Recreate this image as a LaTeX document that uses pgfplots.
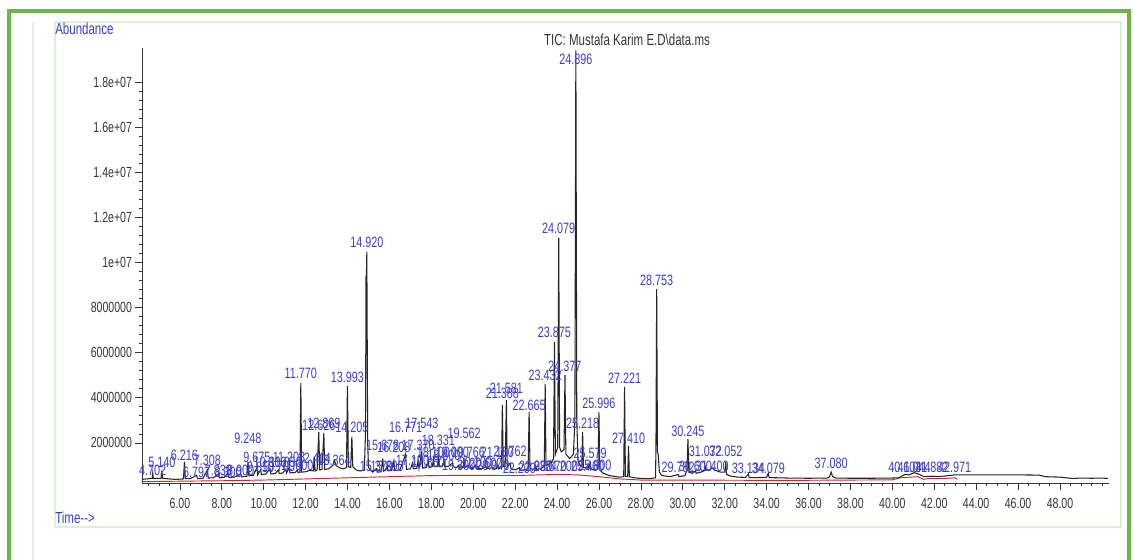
\documentclass[border=0pt]{standalone}
\usepackage{fontspec}
\setmainfont{Liberation Sans}[FakeStretch=0.72]
\usepackage{pgfplots}
\usepackage{pgfplotstable}
\pgfplotsset{compat=1.18}
\definecolor{lblue}{RGB}{62,62,205}
\definecolor{gframe}{RGB}{112,180,72}
\definecolor{lframe}{RGB}{220,242,212}
\definecolor{tcol}{RGB}{55,55,55}
\definecolor{rline}{RGB}{205,40,40}

\pgfplotstableread{
x y
4.19 380000
4.40 400000
4.60 420000
4.68 430000
4.702 650000
4.73 430000
4.90 420000
5.10 430000
5.14 700000
5.18 430000
5.50 400000
5.80 380000
6.17 400000
6.216 1150000
6.26 420000
6.50 410000
6.797 560000
6.85 410000
7.10 430000
7.308 800000
7.35 440000
7.60 450000
7.839 620000
7.88 450000
8.10 470000
8.30 650000
8.34 470000
8.60 480000
8.90 620000
8.94 490000
9.20 520000
9.248 1150000
9.29 540000
9.50 560000
9.675 900000
9.71 580000
9.85 800000
9.89 590000
10.10 620000
10.30 850000
10.34 620000
10.55 640000
10.70 800000
10.74 640000
10.90 660000
11.05 820000
11.09 660000
11.208 900000
11.25 670000
11.50 680000
11.60 800000
11.64 680000
11.73 700000
11.770 4660000
11.81 700000
12.00 720000
12.20 780000
12.37 760000
12.414 1400000
12.45 750000
12.55 800000
12.626 2480000
12.67 800000
12.78 820000
12.869 2440000
12.91 820000
13.10 850000
13.30 1000000
13.364 1240000
13.45 1000000
13.60 900000
13.80 850000
13.95 900000
13.993 4520000
14.04 950000
14.15 900000
14.205 2260000
14.25 950000
14.40 800000
14.60 750000
14.80 800000
14.86 2500000
14.88 9360000
14.90 9400000
14.920 10470000
14.96 2000000
15.00 900000
15.20 700000
15.379 850000
15.42 700000
15.60 720000
15.678 1300000
15.72 750000
15.80 780000
15.890 1000000
15.93 760000
16.10 780000
16.208 1200000
16.25 780000
16.50 800000
16.771 1500000
16.81 820000
17.00 850000
17.10 1100000
17.14 850000
17.30 870000
17.37 1200000
17.41 870000
17.543 1600000
17.58 880000
17.75 900000
17.85 1200000
17.89 900000
18.05 950000
18.10 1300000
18.14 950000
18.30 950000
18.331 1400000
18.37 950000
18.50 950000
18.60 1200000
18.64 950000
18.80 950000
19.00 1100000
19.04 950000
19.20 900000
19.30 1000000
19.34 880000
19.52 900000
19.562 1250000
19.60 900000
19.766 1000000
19.80 880000
20.00 870000
20.10 1000000
20.14 860000
20.40 850000
20.60 950000
20.64 850000
20.90 900000
20.94 840000
21.10 850000
21.15 1000000
21.19 850000
21.35 900000
21.388 3680000
21.43 950000
21.52 950000
21.581 3900000
21.62 950000
21.762 1100000
21.80 850000
22.00 800000
22.20 900000
22.24 780000
22.45 800000
22.62 850000
22.665 3370000
22.71 850000
22.90 830000
22.98 1000000
23.02 830000
23.20 850000
23.30 900000
23.39 950000
23.432 4610000
23.47 1000000
23.60 1050000
23.67 1200000
23.72 1100000
23.83 1300000
23.875 6470000
23.92 1500000
24.03 1800000
24.079 11090000
24.12 1800000
24.20 1600000
24.33 1700000
24.377 5000000
24.42 1500000
24.60 1300000
24.78 1500000
24.85 3000000
24.896 19400000
24.94 3000000
25.00 1200000
25.10 1000000
25.18 950000
25.218 2480000
25.26 900000
25.40 900000
25.46 1000000
25.50 850000
25.579 1100000
25.62 820000
25.80 800000
25.95 850000
25.996 3370000
26.04 800000
26.20 650000
26.50 550000
26.80 500000
27.00 480000
27.18 500000
27.221 4480000
27.26 520000
27.37 500000
27.410 1860000
27.45 500000
27.70 450000
28.00 420000
28.40 410000
28.70 450000
28.72 2000000
28.753 8820000
28.79 1600000
28.83 1460000
28.88 700000
29.00 550000
29.40 500000
29.782 600000
29.82 500000
30.10 550000
30.20 800000
30.245 2170000
30.29 700000
30.45 650000
30.60 750000
30.64 650000
30.85 700000
31.00 750000
31.072 930000
31.11 800000
31.30 800000
31.40 900000
31.50 800000
31.80 700000
32.00 700000
32.052 1150000
32.09 600000
32.30 520000
32.60 480000
33.00 470000
33.134 620000
33.17 460000
33.50 460000
34.00 470000
34.079 650000
34.12 460000
35.00 440000
36.00 430000
36.90 440000
37.00 500000
37.080 700000
37.15 500000
37.30 440000
38.00 430000
39.00 430000
40.00 440000
40.30 450000
40.603 600000
40.80 580000
41.044 680000
41.30 600000
41.50 500000
41.882 520000
42.20 500000
42.50 530000
42.971 580000
43.20 580000
44.00 580000
45.00 580000
46.00 580000
47.00 570000
47.30 500000
48.00 480000
48.60 420000
49.00 440000
49.50 430000
50.00 440000
50.30 420000
}\tic

\pgfplotstableread{
x y
4.19 280000
6.00 300000
8.00 320000
10.00 350000
12.00 400000
14.00 450000
16.00 500000
18.00 550000
20.00 560000
22.00 550000
24.00 600000
25.00 580000
26.00 500000
27.00 400000
28.00 350000
30.00 350000
33.00 340000
36.00 340000
40.00 360000
40.40 450000
41.20 500000
41.50 380000
41.70 420000
42.50 420000
43.00 450000
43.10 380000
}\base

\pgfplotstableread{
x y lab
4.702 798000 4.702
5.140 1153000 5.140
6.216 1463000 6.216
6.797 710000 6.797
7.308 1242000 7.308
7.839 798000 7.839
8.300 710000 8.300
8.900 798000 8.900
9.248 2217000 9.248
9.675 1375000 9.675
9.850 931000 9.850
10.300 1153000 10.300
10.700 976000 10.700
11.050 1153000 11.050
11.208 1375000 11.208
11.600 1020000 11.600
11.770 5100000 11.770
12.414 1330000 12.414
12.626 2794000 12.626
12.869 2882000 12.869
13.364 1242000 13.364
13.993 4922000 13.993
14.205 2705000 14.205
14.920 10910000 14.920
15.379 976000 15.379
15.678 1907000 15.678
15.890 976000 15.890
16.208 1818000 16.208
16.771 2705000 16.771
17.100 1242000 17.100
17.370 1907000 17.370
17.543 2882000 17.543
17.850 1153000 17.850
18.100 1596000 18.100
18.331 2129000 18.331
18.600 1463000 18.600
19.000 1596000 19.000
19.300 1020000 19.300
19.562 2439000 19.562
19.766 1596000 19.766
20.100 1153000 20.100
20.600 1109000 20.600
20.940 1020000 20.940
21.150 1596000 21.150
21.388 4213000 21.388
21.581 4435000 21.581
21.762 1641000 21.762
22.200 887000 22.200
22.665 3681000 22.665
22.980 976000 22.980
23.432 5011000 23.432
23.670 976000 23.670
23.875 6918000 23.875
24.079 11530000 24.079
24.200 976000 24.200
24.377 5410000 24.377
24.896 19020000 24.896
25.218 2882000 25.218
25.460 976000 25.460
25.579 1552000 25.579
25.800 1020000 25.800
25.996 3769000 25.996
27.221 4878000 27.221
27.410 2217000 27.410
28.753 9224000 28.753
29.782 931000 29.782
30.245 2528000 30.245
30.600 976000 30.600
31.072 1641000 31.072
31.400 976000 31.400
32.052 1641000 32.052
33.134 887000 33.134
34.079 887000 34.079
37.080 1109000 37.080
40.603 931000 40.603
41.044 931000 41.044
41.882 931000 41.882
42.971 931000 42.971
}\labs

\begin{document}
\begin{tikzpicture}
\begin{scope}[x=0.75pt,y=0.75pt]
\path[use as bounding box] (0,0) rectangle (1133,560);
\fill[white] (0,0) rectangle (1133,560);
\draw[black!8, line width=2.2pt] (33,0) -- (33,538);
\draw[lframe, line width=1.2pt] (55,33) rectangle (1121,538);
\draw[gframe, line width=2.6pt] (9,0) -- (9,549) -- (1129,549) -- (1129,0);
\node[text=tcol, font=\fontsize{12}{14}\selectfont] at (627,520) {TIC: Mustafa Karim E.D\textbackslash data.ms};
\node[text=lblue, font=\fontsize{12}{14}\selectfont, anchor=west, inner sep=0pt] at (55,531) {Abundance};
\node[text=lblue, font=\fontsize{12}{14}\selectfont, anchor=west, inner sep=0pt] at (55,42) {Time-{}->};
\end{scope}
\begin{axis}[
  at={(106.5pt,57.75pt)}, anchor=south west, scale only axis,
  width=725.25pt, height=326.25pt,
  xmin=4.19, xmax=50.34, ymin=220000, ymax=19510000,
  axis lines=left, axis line style={-, tcol, line width=0.6pt},
  clip=false,
  tick align=outside,
  major tick length=5pt, minor tick length=2.5pt,
  tick style={tcol, line width=0.5pt},
  xtick={6,8,...,48},
  minor xtick={4.5,5,...,50},
  ytick={2000000,4000000,6000000,8000000,10000000,12000000,14000000,16000000,18000000},
  yticklabels={2000000,4000000,6000000,8000000,1e+07,1.2e+07,1.4e+07,1.6e+07,1.8e+07},
  minor y tick num=4,
  scaled x ticks=false, scaled y ticks=false,
  xticklabel style={/pgf/number format/fixed, /pgf/number format/fixed zerofill, /pgf/number format/precision=2, /pgf/number format/assume math mode=true, yshift=-3pt},
  ticklabel style={font=\fontsize{11}{13}\selectfont, text=tcol},
  yticklabel style={xshift=1pt},
]
\addplot[rline, line width=0.7pt] table[x=x,y=y] {\base};
\addplot[black!85, line width=0.8pt] table[x=x,y=y] {\tic};
\addplot[draw=none, mark=none, nodes near coords, point meta=explicit symbolic,
  every node near coord/.append style={anchor=center, inner sep=0pt, text=lblue, font=\fontsize{11.25}{13}\selectfont}]
  table[x=x,y=y,meta=lab] {\labs};
\end{axis}
\end{tikzpicture}
\end{document}
